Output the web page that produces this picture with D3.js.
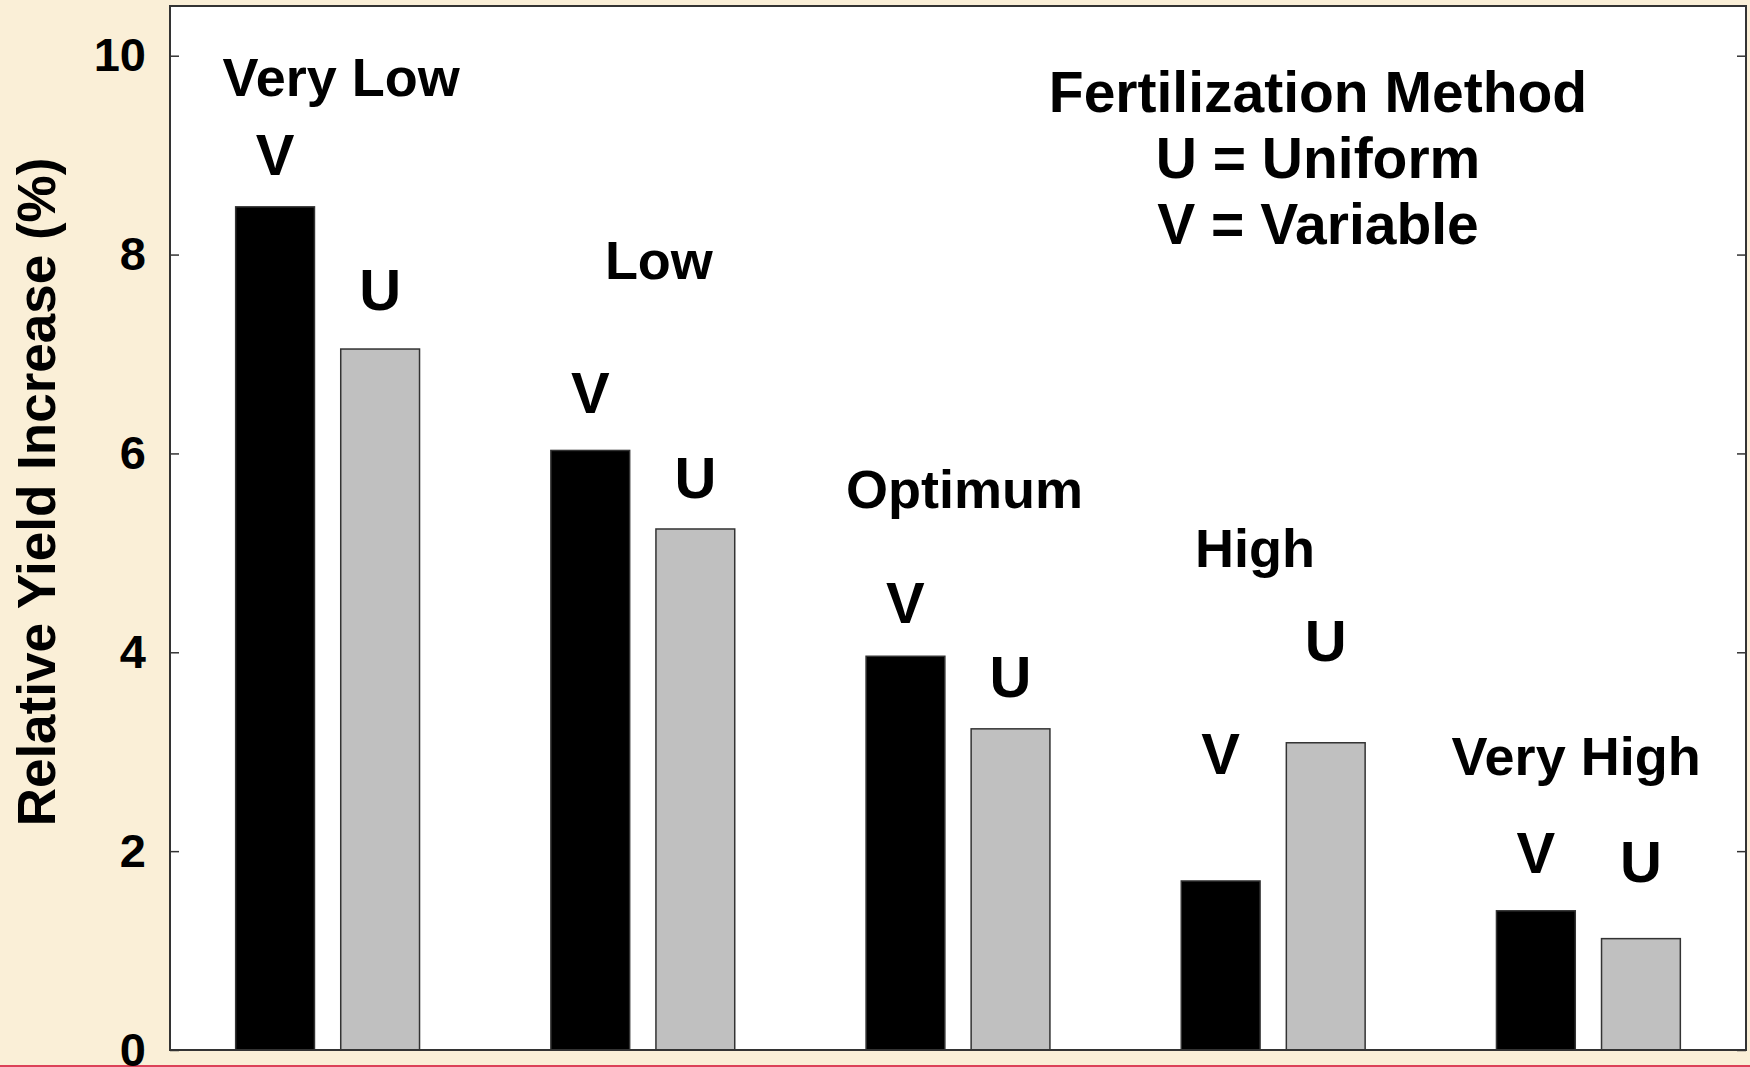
<!DOCTYPE html>
<meta charset="utf-8">

<!-- Load d3.js -->
<script src="https://d3js.org/d3.v7.min.js"></script>

<style>
  body { margin: 0; background: #faefd7; }
  text { font-family: "Liberation Sans", Arial, sans-serif; font-weight: bold; fill: #000; }
</style>

<body>
<div id="my_dataviz"></div>

<script>

  // data
  var categories = ["Very Low", "Low", "Optimum", "High", "Very High"]
  var methods = ["V", "U"]
  var variableValues = [8.48, 6.03, 3.96, 1.70, 1.40]
  var uniformValues = [7.05, 5.24, 3.23, 3.09, 1.12]
  var yTicks = [0, 2, 4, 6, 8, 10]
  var legendLines = ["Fertilization Method", "U = Uniform", "V = Variable"]

  // where the text annotations sit, in y-axis units (baseline)
  var catLabelAt = [9.59, 7.75, 5.45, 4.86, 2.77]
  var catLabelShift = [0.043, 0.051, 0.021, -0.058, -0.039]   // fraction of band width
  var vLabelAt = [8.80, 6.41, 4.29, 2.78, 1.78]
  var uLabelAt = [7.44, 5.55, 3.55, 3.91, 1.69]

  // set the dimensions and margins of the graph
  var width = 1750,
      height = 1067,
      plotLeft = 170,
      plotRight = 1746,
      plotTop = 6,
      plotBottom = 1050

  var svg = d3.select("#my_dataviz")
    .append("svg")
      .attr("width", width)
      .attr("height", height)

  // beige background + red line at the bottom
  svg.append("rect")
    .attr("width", width)
    .attr("height", height)
    .attr("fill", "#faefd7")
  svg.append("line")
    .attr("x1", 0).attr("x2", width)
    .attr("y1", 1066).attr("y2", 1066)
    .attr("stroke", "#dc4258")
    .attr("stroke-width", 2)

  // plot area
  svg.append("rect")
    .attr("x", plotLeft)
    .attr("y", plotTop)
    .attr("width", plotRight - plotLeft)
    .attr("height", plotBottom - plotTop)
    .attr("fill", "white")

  // scales
  var x0 = d3.scaleBand()
    .domain(categories)
    .range([plotLeft, plotRight])
    .paddingInner(0)
    .paddingOuter(0)

  var x1 = d3.scaleBand()
    .domain(methods)
    .range([0, x0.bandwidth()])
    .paddingInner(0.25)
    .paddingOuter(0.625)

  var y = d3.scaleLinear()
    .domain([0, 10.5])
    .range([plotBottom, plotTop])

  var color = d3.scaleOrdinal()
    .domain(methods)
    .range(["#000000", "#c0c0c0"])

  // table of bars built from the arrays
  var rows = categories.map(function(c, i) {
    return [
      { cat: c, method: "V", value: variableValues[i], labelAt: vLabelAt[i] },
      { cat: c, method: "U", value: uniformValues[i], labelAt: uLabelAt[i] }
    ]
  })

  var groups = svg.selectAll(".group")
    .data(rows)
    .enter()
    .append("g")
      .attr("class", "group")
      .attr("transform", function(d, i) { return "translate(" + x0(categories[i]) + ",0)" })

  groups.selectAll("rect")
    .data(function(d) { return d })
    .enter()
    .append("rect")
      .attr("x", function(d) { return x1(d.method) })
      .attr("y", function(d) { return y(d.value) })
      .attr("width", x1.bandwidth())
      .attr("height", function(d) { return y(0) - y(d.value) })
      .attr("fill", function(d) { return color(d.method) })
      .attr("stroke", "#333")
      .attr("stroke-width", 1.5)

  // V / U letters above the bars
  groups.selectAll(".method-label")
    .data(function(d) { return d })
    .enter()
    .append("text")
      .attr("class", "method-label")
      .attr("x", function(d) { return x1(d.method) + x1.bandwidth() / 2 })
      .attr("y", function(d) { return y(d.labelAt) })
      .attr("text-anchor", "middle")
      .style("font-size", "58px")
      .text(function(d) { return d.method })

  // category names
  svg.selectAll(".cat-label")
    .data(categories)
    .enter()
    .append("text")
      .attr("class", "cat-label")
      .attr("x", function(d, i) { return x0(d) + x0.bandwidth() * (0.5 + catLabelShift[i]) })
      .attr("y", function(d, i) { return y(catLabelAt[i]) })
      .attr("text-anchor", "middle")
      .style("font-size", "54px")
      .text(function(d) { return d })

  // y axis, ticks pointing inwards on both sides
  var yAxis = svg.append("g")
    .attr("transform", "translate(" + plotLeft + ",0)")
    .call(d3.axisLeft(y).tickValues(yTicks).tickSize(-9).tickPadding(24))
  yAxis.select(".domain").remove()
  yAxis.selectAll("line").attr("stroke", "#333").attr("stroke-width", 1.5)
  yAxis.selectAll("text")
    .attr("fill", "#000")
    .style("font-family", "'Liberation Sans', Arial, sans-serif")
    .style("font-weight", "bold")
    .style("font-size", "47px")

  var yAxisRight = svg.append("g")
    .attr("transform", "translate(" + plotRight + ",0)")
    .call(d3.axisRight(y).tickValues(yTicks).tickSize(-9).tickFormat(""))
  yAxisRight.select(".domain").remove()
  yAxisRight.selectAll("line").attr("stroke", "#333").attr("stroke-width", 1.5)

  // frame
  svg.append("rect")
    .attr("x", plotLeft)
    .attr("y", plotTop)
    .attr("width", plotRight - plotLeft)
    .attr("height", plotBottom - plotTop)
    .attr("fill", "none")
    .attr("stroke", "#333")
    .attr("stroke-width", 2)

  // y axis title
  svg.append("text")
    .attr("transform", "translate(55," + 492 + ") rotate(-90)")
    .attr("text-anchor", "middle")
    .style("font-size", "53px")
    .text("Relative Yield Increase (%)")

  // legend text block
  svg.selectAll(".legend")
    .data(legendLines)
    .enter()
    .append("text")
      .attr("class", "legend")
      .attr("x", 1318)
      .attr("y", function(d, i) { return 112 + i * 66 })
      .attr("text-anchor", "middle")
      .style("font-size", "57px")
      .text(function(d) { return d })

</script>
</body>
